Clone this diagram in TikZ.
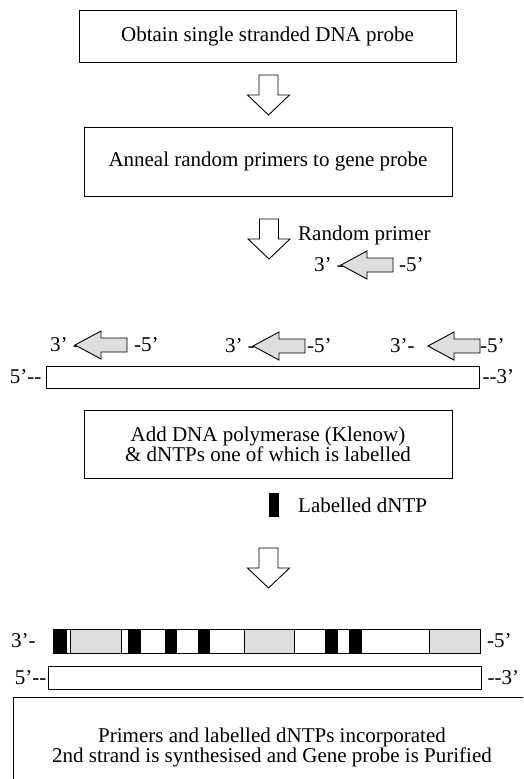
\documentclass[tikz,border=0pt]{standalone}
\usepackage{fontspec}
\setmainfont{Liberation Serif}
\definecolor{primergray}{gray}{0.87}
\tikzset{
  txt/.style={font=\fontsize{21}{20}\selectfont, inner sep=0pt},
  stepbox/.style={draw, line width=1pt, align=center, font=\fontsize{21}{20}\selectfont, inner sep=0pt},
  strand/.style={draw, line width=1pt, inner sep=0pt},
  downarr/.pic={\draw[line width=0.9pt, fill=white] (-9.5,0) -- (9.5,0) -- (9.5,20) -- (21,20) -- (0,40) -- (-21,20) -- (-9.5,20) -- cycle;},
  primer/.pic={\draw[line width=0.9pt, fill=primergray] (0,0) -- (26,-14) -- (26,-7) -- (52,-7) -- (52,7) -- (26,7) -- (26,14) -- cycle;},
  blk/.style={fill=black, draw=black, line width=0.6pt},
  gry/.style={fill=primergray, draw=black, line width=0.9pt}
}
\begin{document}
\begin{tikzpicture}[x=1pt,y=-1pt]
\useasboundingbox (0,0) rectangle (523,779);
\clip (0,0) rectangle (523,779);

% step boxes
\node[stepbox, minimum width=377pt, minimum height=52pt] (b1) at (267.5,36) {Obtain single stranded DNA probe};
\node[stepbox, minimum width=368pt, minimum height=69pt] (b2) at (268,161.5) {Anneal random primers to gene probe};
\node[stepbox, minimum width=368pt, minimum height=68pt] (b3) at (268,444) {Add DNA polymerase (Klenow)\\\& dNTPs one of which is labelled};
\node[stepbox, minimum width=518pt, minimum height=100pt] (b4) at (272,747) {Primers and labelled dNTPs incorporated\\2nd strand is synthesised and Gene probe is Purified};

% big down arrows
\pic at (268.5,75) {downarr};
\pic at (269,219) {downarr};
\pic at (268.5,548) {downarr};

% random primer legend
\node[txt, anchor=west] (rp) at (298,235) {Random primer};
\node[txt, anchor=east] (p0l) at (344,265) {3’ -};
\pic at (341,265) {primer};
\node[txt, anchor=west] (p0r) at (399,265) {-5’};

% annealed primers
\node[txt, anchor=west] (p1l) at (50,345) {3’ -};
\pic at (75,345) {primer};
\node[txt, anchor=west] (p1r) at (134,345) {-5’};

\node[txt, anchor=west] (p2l) at (225,346) {3’ -};
\pic at (253,346) {primer};
\node[txt, anchor=west] (p2r) at (307,346) {-5’};

\node[txt, anchor=west] (p3l) at (390,346) {3’-};
\pic at (428,346) {primer};
\node[txt, anchor=west] (p3r) at (480,346) {-5’};

% template strand
\node[strand, minimum width=433pt, minimum height=22pt] (t1) at (262.5,377) {};
\node[txt, anchor=east] (t1l) at ([xshift=-4pt]t1.west) {5’-\kern0pt-};
\node[txt, anchor=west] (t1r) at ([xshift=3pt]t1.east) {-\kern0pt-3’};

% labelled dNTP legend
\node[fill=black, minimum width=10pt, minimum height=24pt, inner sep=0pt] (ld) at (274,505) {};
\node[txt, anchor=west] (ldt) at (298,505) {Labelled dNTP};

% labelled new strand
\node[strand, minimum width=427pt, minimum height=24pt] (ls) at (266.5,641) {};
\draw[gry] (70,629) rectangle (121,653);
\draw[gry] (244,629) rectangle (294,653);
\draw[gry] (429,629) rectangle (480,653);
\draw[blk] (53,629) rectangle (66,653);
\draw[blk] (128,629) rectangle (140,653);
\draw[blk] (165,629) rectangle (176,653);
\draw[blk] (198,629) rectangle (209,653);
\draw[blk] (325,629) rectangle (337,653);
\draw[blk] (349,629) rectangle (361,653);
\node[strand, minimum width=427pt, minimum height=24pt] at (266.5,641) {};
\node[txt, anchor=west] (lsl) at (11,641) {3’-};
\node[txt, anchor=west] (lsr) at (487,641) {-5’};

% bottom template strand
\node[strand, minimum width=433pt, minimum height=23pt] (t2) at (264.5,677.5) {};
\node[txt, anchor=east] (t2l) at ([xshift=-1pt]t2.west) {5’-\kern0pt-};
\node[txt, anchor=west] (t2r) at ([xshift=6pt]t2.east) {-\kern0pt-3’};
\end{tikzpicture}
\end{document}
